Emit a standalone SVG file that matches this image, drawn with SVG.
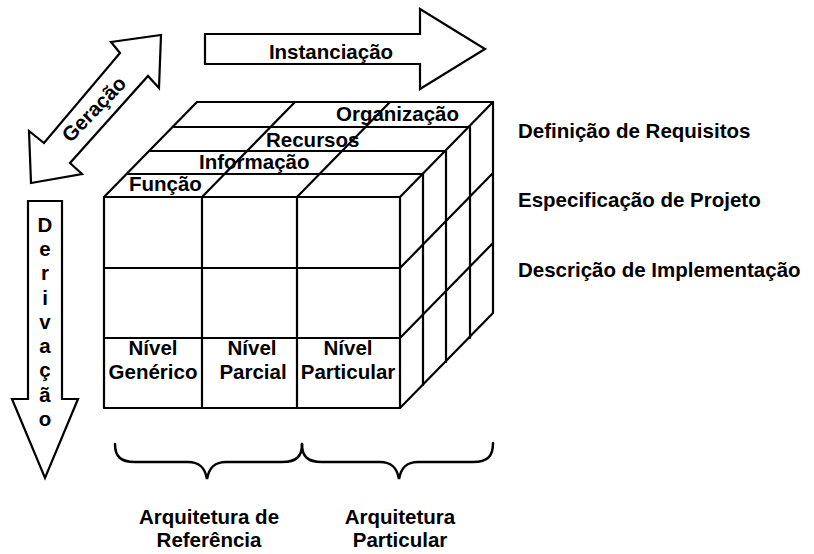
<svg xmlns="http://www.w3.org/2000/svg" width="814" height="554" viewBox="0 0 814 554">
<style>
text{font-family:"Liberation Sans",Arial,sans-serif;font-weight:bold;font-size:20.5px;fill:#000}
.c{text-anchor:middle}
.ln{stroke:#000;stroke-width:2.2;fill:none;stroke-linecap:round;stroke-linejoin:round}
.ar{stroke:#000;stroke-width:2.2;fill:#fff;stroke-linejoin:miter}
.br{stroke:#000;stroke-width:2.5;fill:none;stroke-linecap:round}
</style>
<rect width="814" height="554" fill="#fff"/>

<g id="arrow-instanciacao">
<polygon class="ar" points="205,34 420,34 420,9 485,49 420,89 420,64 205,64"/>
<text class="c" x="331" y="59">Instanciação</text>
</g>

<g id="arrow-geracao">
<polygon class="ar" points="161,35 159,88 148,76 70,163 82,174 31,183 29,131 44,143 120,53 111,42"/>
<text class="c" transform="translate(99,114) rotate(-46)">Geração</text>
</g>

<g id="arrow-derivacao">
<polygon class="ar" points="28,201 62,201 62,399 78,399 45,478 12,399 28,399"/>
<g class="c">
<text x="45" y="232">D</text>
<text x="45" y="256">e</text>
<text x="45" y="280">r</text>
<text x="45" y="305">i</text>
<text x="45" y="329">v</text>
<text x="45" y="353">a</text>
<text x="45" y="377">ç</text>
<text x="45" y="402">ã</text>
<text x="45" y="426">o</text>
</g>
</g>

<g id="cube">
<g class="ln">
<rect x="104" y="197" width="296" height="211"/>
<line x1="202" y1="197" x2="202" y2="408"/>
<line x1="297" y1="197" x2="297" y2="408"/>
<line x1="104" y1="268" x2="400" y2="268"/>
<line x1="104" y1="338" x2="400" y2="338"/>
<line x1="104" y1="197" x2="197" y2="102"/>
<line x1="202" y1="197" x2="295" y2="102"/>
<line x1="297" y1="197" x2="390" y2="102"/>
<line x1="400" y1="197" x2="493" y2="102"/>
<line x1="197" y1="102" x2="493" y2="102"/>
<line x1="127" y1="174" x2="423" y2="174"/>
<line x1="150" y1="151" x2="446" y2="151"/>
<line x1="174" y1="127" x2="470" y2="127"/>
<line x1="493" y1="102" x2="493" y2="313"/>
<line x1="423" y1="174" x2="423" y2="385"/>
<line x1="446" y1="151" x2="446" y2="362"/>
<line x1="470" y1="127" x2="470" y2="338"/>
<line x1="400" y1="268" x2="493" y2="173"/>
<line x1="400" y1="338" x2="493" y2="243"/>
<line x1="400" y1="408" x2="493" y2="313"/>
</g>
</g>

<g id="layer-funcao"><text x="129" y="191">Função</text></g>
<g id="layer-informacao"><text x="199" y="169">Informação</text></g>
<g id="layer-recursos"><text x="266" y="147">Recursos</text></g>
<g id="layer-organizacao"><text x="336" y="121">Organização</text></g>

<g id="nivel-generico" class="c"><text x="153" y="355">Nível</text><text x="153" y="379">Genérico</text></g>
<g id="nivel-parcial" class="c"><text x="252" y="355">Nível</text><text x="253" y="379">Parcial</text></g>
<g id="nivel-particular" class="c"><text x="348" y="355">Nível</text><text x="348" y="379">Particular</text></g>

<g id="label-definicao"><text x="518" y="138">Definição de Requisitos</text></g>
<g id="label-especificacao"><text x="518" y="207">Especificação de Projeto</text></g>
<g id="label-descricao"><text x="518" y="277">Descrição de Implementação</text></g>

<g id="connectors">
<path class="br" d="M115,444 C115,456 120,462 135,462 L188,462 C200,462 205,468 207,479 C209,468 214,462 226,462 L282,462 C297,462 302,456 302,444"/>
<path class="br" d="M302,444 C302,456 307,462 322,462 L380,462 C392,462 397,468 399,479 C401,468 406,462 418,462 L473,462 C488,462 493,456 493,443"/>
</g>

<g id="label-referencia" class="c"><text x="209" y="524">Arquitetura de</text><text x="209" y="547">Referência</text></g>
<g id="label-particular" class="c"><text x="400" y="524">Arquitetura</text><text x="400" y="547">Particular</text></g>
</svg>
